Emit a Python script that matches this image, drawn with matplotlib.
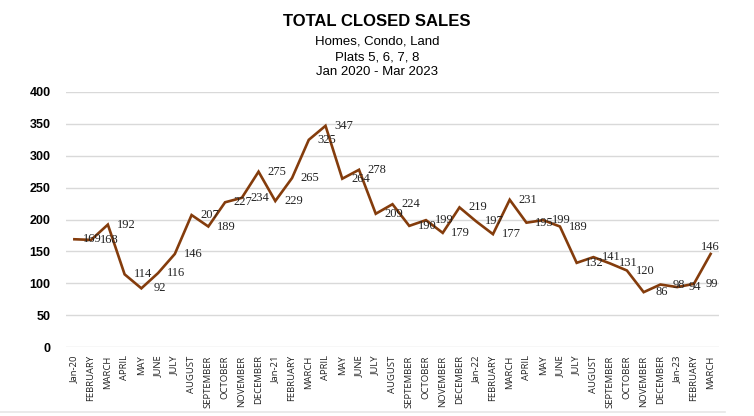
import matplotlib
matplotlib.use("Agg")
import matplotlib.pyplot as plt
from matplotlib.lines import Line2D

BROWN, GRID = "#843C0C", "#D9D9D9"
SANS = "Liberation Sans"

months = ["Jan-20", "FEBRUARY", "MARCH", "APRIL", "MAY", "JUNE", "JULY", "AUGUST",
          "SEPTEMBER", "OCTOBER", "NOVEMBER", "DECEMBER",
          "Jan-21", "FEBRUARY", "MARCH", "APRIL", "MAY", "JUNE", "JULY", "AUGUST",
          "SEPTEMBER", "OCTOBER", "NOVEMBER", "DECEMBER",
          "Jan-22", "FEBRUARY", "MARCH", "APRIL", "MAY", "JUNE", "JULY", "AUGUST",
          "SEPTEMBER", "OCTOBER", "NOVEMBER", "DECEMBER",
          "Jan-23", "FEBRUARY", "MARCH"]
sales = [169, 168, 192, 114, 92, 116, 146, 207, 189, 227, 234, 275,
         229, 265, 325, 347, 264, 278, 209, 224, 190, 199, 179, 219,
         197, 177, 231, 195, 199, 189, 132, 141, 131, 120, 86, 98,
         94, 99, 146]
yticks = [0, 50, 100, 150, 200, 250, 300, 350, 400]

fig = plt.figure(figsize=(7.54, 4.16), dpi=100)
ax = fig.add_axes([66 / 754, 1 - 347 / 416, (719 - 66) / 754, (347 - 92) / 416])

x = list(range(len(sales)))
ax.plot(x, sales, color=BROWN, lw=1.9, solid_joinstyle="miter", zorder=3)
for i, v in enumerate(sales):
    if i == len(sales) - 1:
        ax.annotate(str(v), (i, v), xytext=(0, 1), textcoords="offset points",
                    ha="center", va="bottom", fontsize=9, family="Liberation Serif", color="#222222")
    else:
        ax.annotate(str(v), (i, v), xytext=(13, 0), textcoords="offset points",
                    ha="center", va="center", fontsize=9, family="Liberation Serif", color="#222222")

ax.set_xlim(-0.5, len(sales) - 0.5)
ax.set_ylim(0, 400)
ax.set_yticks(yticks)
ax.set_yticklabels([str(t) for t in yticks], fontsize=9, fontweight="bold", family=SANS)
ax.set_xticks(x)
ax.set_xticklabels(months, rotation=90, fontsize=6.8, family="Open Sans", color="#222222")
ax.tick_params(axis="y", length=0, pad=11)
ax.tick_params(axis="x", length=0, pad=6)
ax.grid(axis="y", color=GRID, lw=1)
ax.set_axisbelow(True)
for s in ax.spines.values():
    s.set_visible(False)

fig.text(0.5, 1 - 22 / 416, "TOTAL CLOSED SALES", ha="center", va="center",
         fontsize=12, fontweight="bold", family=SANS)
for txt, yy in [("Homes, Condo, Land", 41), ("Plats 5, 6, 7, 8", 57), ("Jan 2020 - Mar 2023", 72)]:
    fig.text(0.5, 1 - yy / 416, txt, ha="center", va="center", fontsize=9.5, family=SANS)

fig.add_artist(Line2D([0, 725 / 754], [1 - 412 / 416] * 2, color="#E6E6E6", lw=1.2))

fig.savefig("out.png", dpi=100)
